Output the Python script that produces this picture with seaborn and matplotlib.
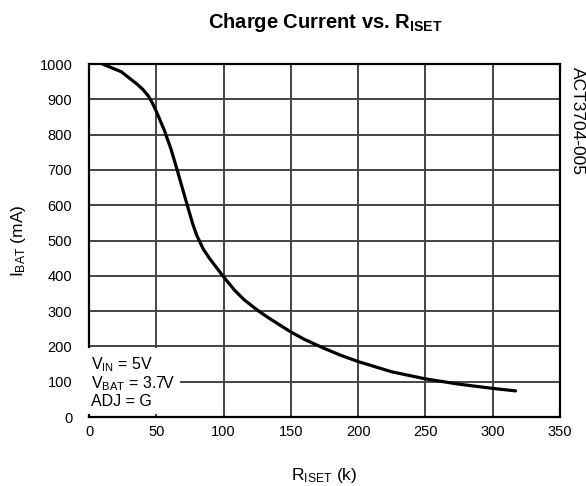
import matplotlib
matplotlib.use("Agg")
import matplotlib.pyplot as plt
import seaborn as sns
import pandas as pd

r_iset = [10, 24, 36, 40, 44, 47, 50, 56, 61, 65.5, 70, 74, 77, 80, 85, 90, 100, 108, 115, 125, 133, 142, 150, 160, 175, 187, 200, 225, 250, 275, 300, 317]
i_bat = [1000, 978, 942, 928, 910, 890, 866, 812, 758, 700, 640, 587, 548, 515, 475, 447, 397, 360, 333, 303, 282, 260, 241, 220, 194, 175, 157, 128, 108, 93, 81, 74]
x_ticks = [0, 50, 100, 150, 200, 250, 300, 350]
y_ticks = [0, 100, 200, 300, 400, 500, 600, 700, 800, 900, 1000]

sns.set_theme(style="white")
plt.rcParams['font.family'] = ['Liberation Sans', 'DejaVu Sans']
plt.rcParams['mathtext.fontset'] = 'custom'
plt.rcParams['mathtext.rm'] = 'Liberation Sans'
plt.rcParams['mathtext.bf'] = 'Liberation Sans:bold'
plt.rcParams['text.color'] = 'black'
plt.rcParams['axes.labelcolor'] = 'black'

fig = plt.figure(figsize=(5.86, 4.86), dpi=100)
ax = fig.add_axes([89/586, 1 - 417/486, (560-89)/586, (417-64)/486])

df = pd.DataFrame({"R": r_iset, "I": i_bat})
sns.lineplot(data=df, x="R", y="I", ax=ax, color="black", linewidth=2.3, zorder=3)

ax.set_xlim(0, 350)
ax.set_ylim(0, 1000)
ax.set_xticks(x_ticks)
ax.set_yticks(y_ticks)
ax.set_xticklabels([str(v) for v in x_ticks], fontsize=10.5)
ax.set_yticklabels([str(v) for v in y_ticks], fontsize=10.5)
ax.grid(True, color="#444444", linewidth=1.4)
ax.tick_params(axis='x', length=0, pad=6, colors='black')
ax.tick_params(axis='y', length=0, pad=12, colors='black')
for s in ax.spines.values():
    s.set_color("black")
    s.set_linewidth(1.6)

ax.set_xlabel(r"$\mathregular{R_{ISET}}$ (k)", fontsize=12.5, labelpad=19)
ax.set_ylabel(r"$\mathregular{I_{BAT}}$ (mA)", fontsize=12.5, labelpad=8)
fig.text(325/586, 1 - 23/486, r"Charge Current vs. $\mathbf{R_{ISET}}$", ha="center", va="center",
         fontsize=14.5, fontweight="bold")
fig.text(577/586, 1 - 67/486, "ACT3704-005", rotation=-90, ha="center", va="top", fontsize=12.5)

ax.text(1.5, 176, "$\\mathregular{V_{IN}}$ = 5V\n$\\mathregular{V_{BAT}}$ = 3.7V\nADJ = G",
        fontsize=11.5, va="top", ha="left", linespacing=1.08,
        bbox=dict(facecolor="white", edgecolor="none", pad=3.5), zorder=4)

fig.savefig("out.png", dpi=100)
